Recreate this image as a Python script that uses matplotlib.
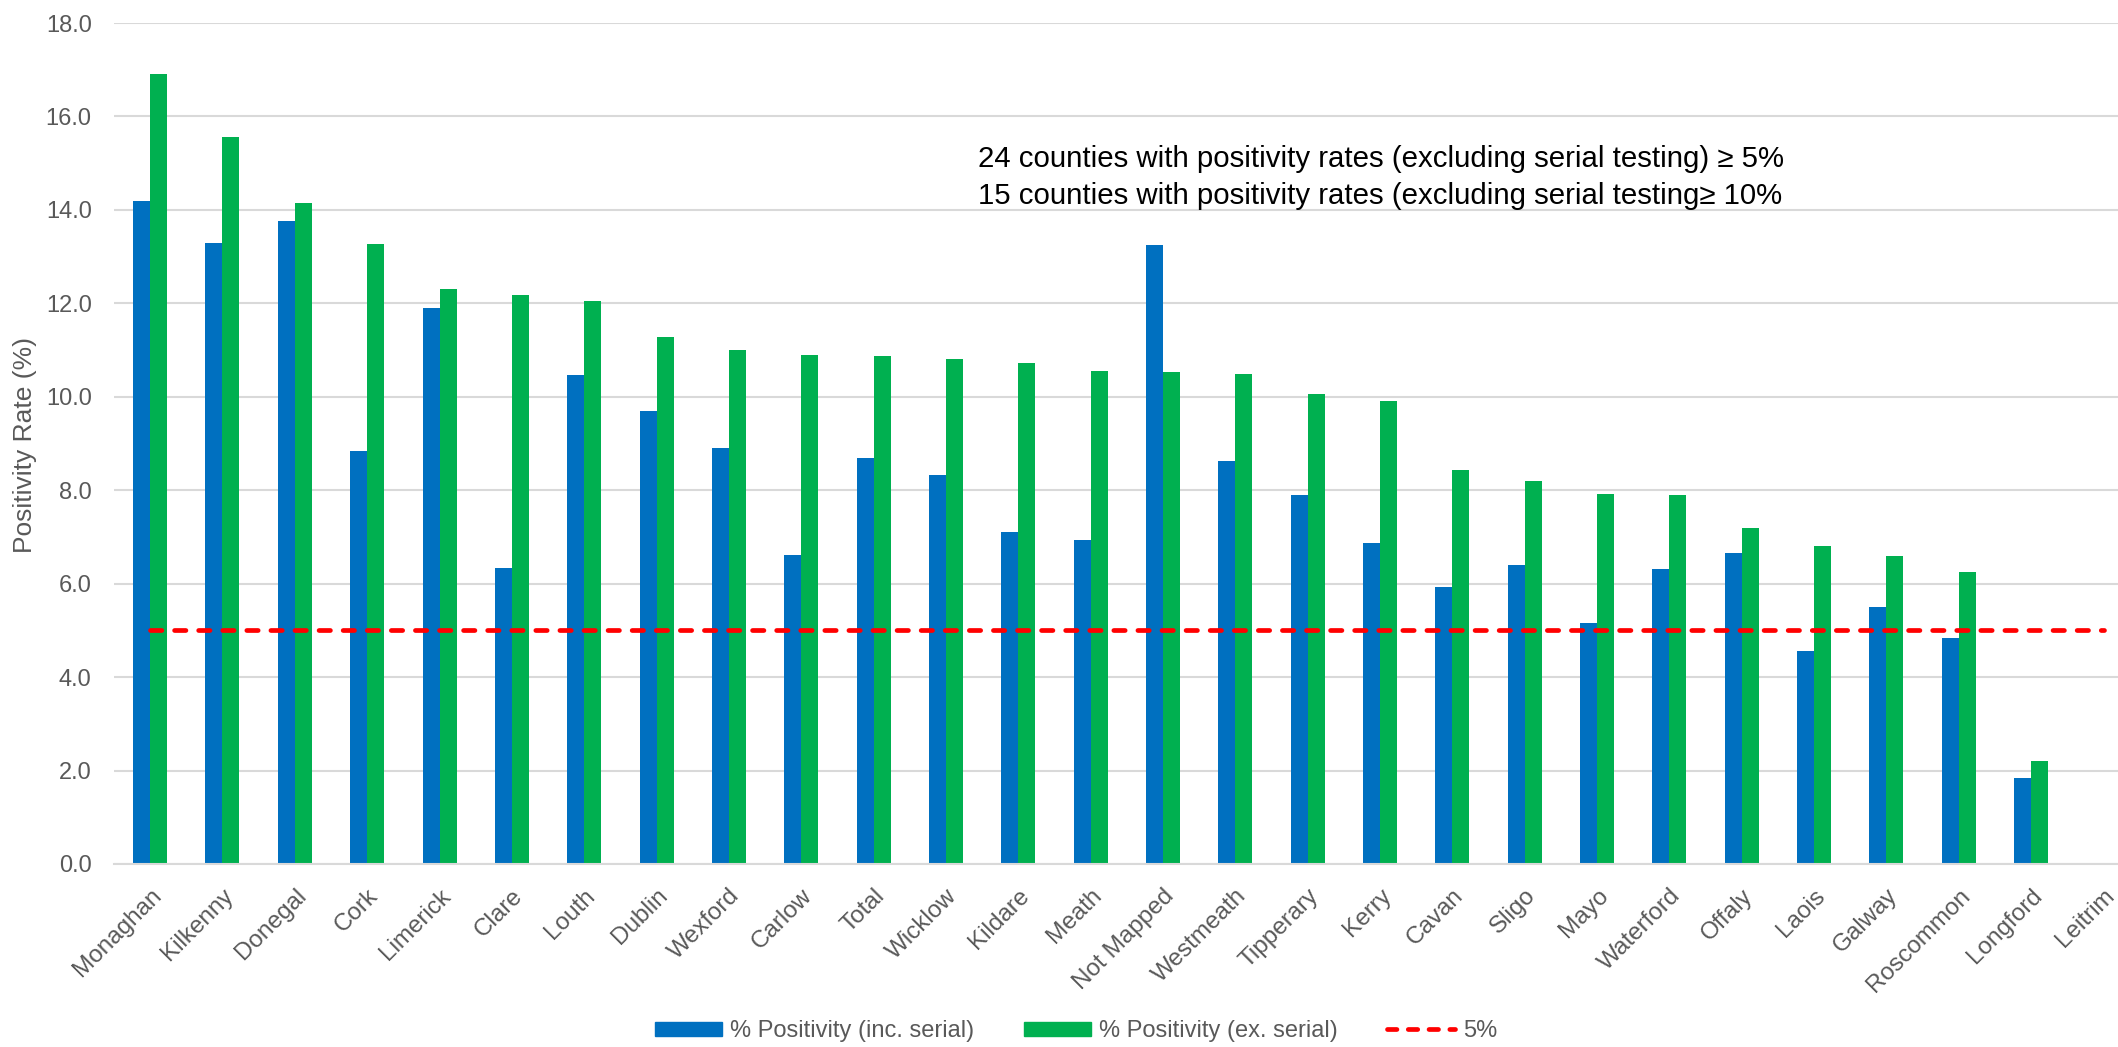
import numpy as np
import matplotlib.pyplot as plt
from matplotlib.lines import Line2D
from matplotlib.patches import Patch

plt.rcParams['font.family'] = ['Liberation Sans', 'DejaVu Sans']

counties = ['Monaghan', 'Kilkenny', 'Donegal', 'Cork', 'Limerick', 'Clare', 'Louth',
            'Dublin', 'Wexford', 'Carlow', 'Total', 'Wicklow', 'Kildare', 'Meath',
            'Not Mapped', 'Westmeath', 'Tipperary', 'Kerry', 'Cavan', 'Sligo', 'Mayo',
            'Waterford', 'Offaly', 'Laois', 'Galway', 'Roscommon', 'Longford', 'Leitrim']
inc_serial = [14.19, 13.29, 13.77, 8.84, 11.90, 6.34, 10.47, 9.70, 8.90, 6.62, 8.69,
              8.32, 7.10, 6.93, 13.25, 8.63, 7.90, 6.87, 5.92, 6.41, 5.16, 6.32, 6.65,
              4.55, 5.51, 4.84, 1.84, 0.0]
ex_serial = [16.90, 15.57, 14.14, 13.28, 12.30, 12.18, 12.06, 11.29, 11.01, 10.90, 10.87,
             10.80, 10.73, 10.56, 10.53, 10.49, 10.07, 9.90, 8.44, 8.20, 7.92, 7.89, 7.19,
             6.81, 6.59, 6.25, 2.20, 0.0]
threshold = [5.0] * len(counties)

blue = '#0070C0'
green = '#00B050'
red = '#FF0000'
grey = '#595959'
grid = '#D9D9D9'

fig = plt.figure(figsize=(21.18, 10.47), dpi=100)
ax = fig.add_axes([0.0538, 0.1748, 0.9462, 0.8032])

x = np.arange(len(counties))
w = 0.235
ax.bar(x - w / 2, inc_serial, width=w, color=blue, zorder=2)
ax.bar(x + w / 2, ex_serial, width=w, color=green, zorder=2)
ax.plot(x, threshold, color=red, linewidth=3.4, dashes=(2.4, 2.7),
        dash_capstyle='round', zorder=3)

ax.set_ylim(0, 18)
ax.set_xlim(-0.5, 27.2)
ax.set_yticks(np.arange(0, 18.1, 2))
ax.set_yticklabels([f'{v:.1f}' for v in np.arange(0, 18.1, 2)])
ax.yaxis.grid(True, color=grid, linewidth=1.5, zorder=0)
ax.set_axisbelow(True)
for s in ['top', 'right', 'left']:
    ax.spines[s].set_visible(False)
ax.spines['bottom'].set_color(grid)
ax.spines['bottom'].set_linewidth(1.5)

ax.set_xticks(x)
ax.set_xticklabels(counties, rotation=45, ha='right', rotation_mode='anchor')
ax.tick_params(axis='x', length=0, pad=15, labelsize=17.5, labelcolor=grey)
ax.tick_params(axis='y', length=0, pad=16, labelsize=17, labelcolor=grey)
fig.text(25 / 2118, 1 - 445 / 1047, 'Positivity Rate (%)', rotation=90,
         ha='center', va='center', fontsize=19, color=grey)

ax.text(0.632, 0.816,
        '24 counties with positivity rates (excluding serial testing) \u2265 5%\n'
        '15 counties with positivity rates (excluding serial testing\u2265 10%',
        transform=ax.transAxes, ha='center', va='center', fontsize=21.2,
        color='black', linespacing=1.4)

handles = [Patch(color=blue, label='% Positivity (inc. serial)'),
           Patch(color=green, label='% Positivity (ex. serial)'),
           Line2D([0], [0], color=red, linewidth=3.4, dashes=(2.0, 2.4),
                  dash_capstyle='round', label='5%')]
fig.legend(handles=handles, loc='center', bbox_to_anchor=(0.508, 0.0153), ncol=3,
           frameon=False, fontsize=17, labelcolor=grey, handlelength=2.84,
           handleheight=0.55, columnspacing=2.1, handletextpad=0.35)

fig.savefig('out.png', dpi=100)
